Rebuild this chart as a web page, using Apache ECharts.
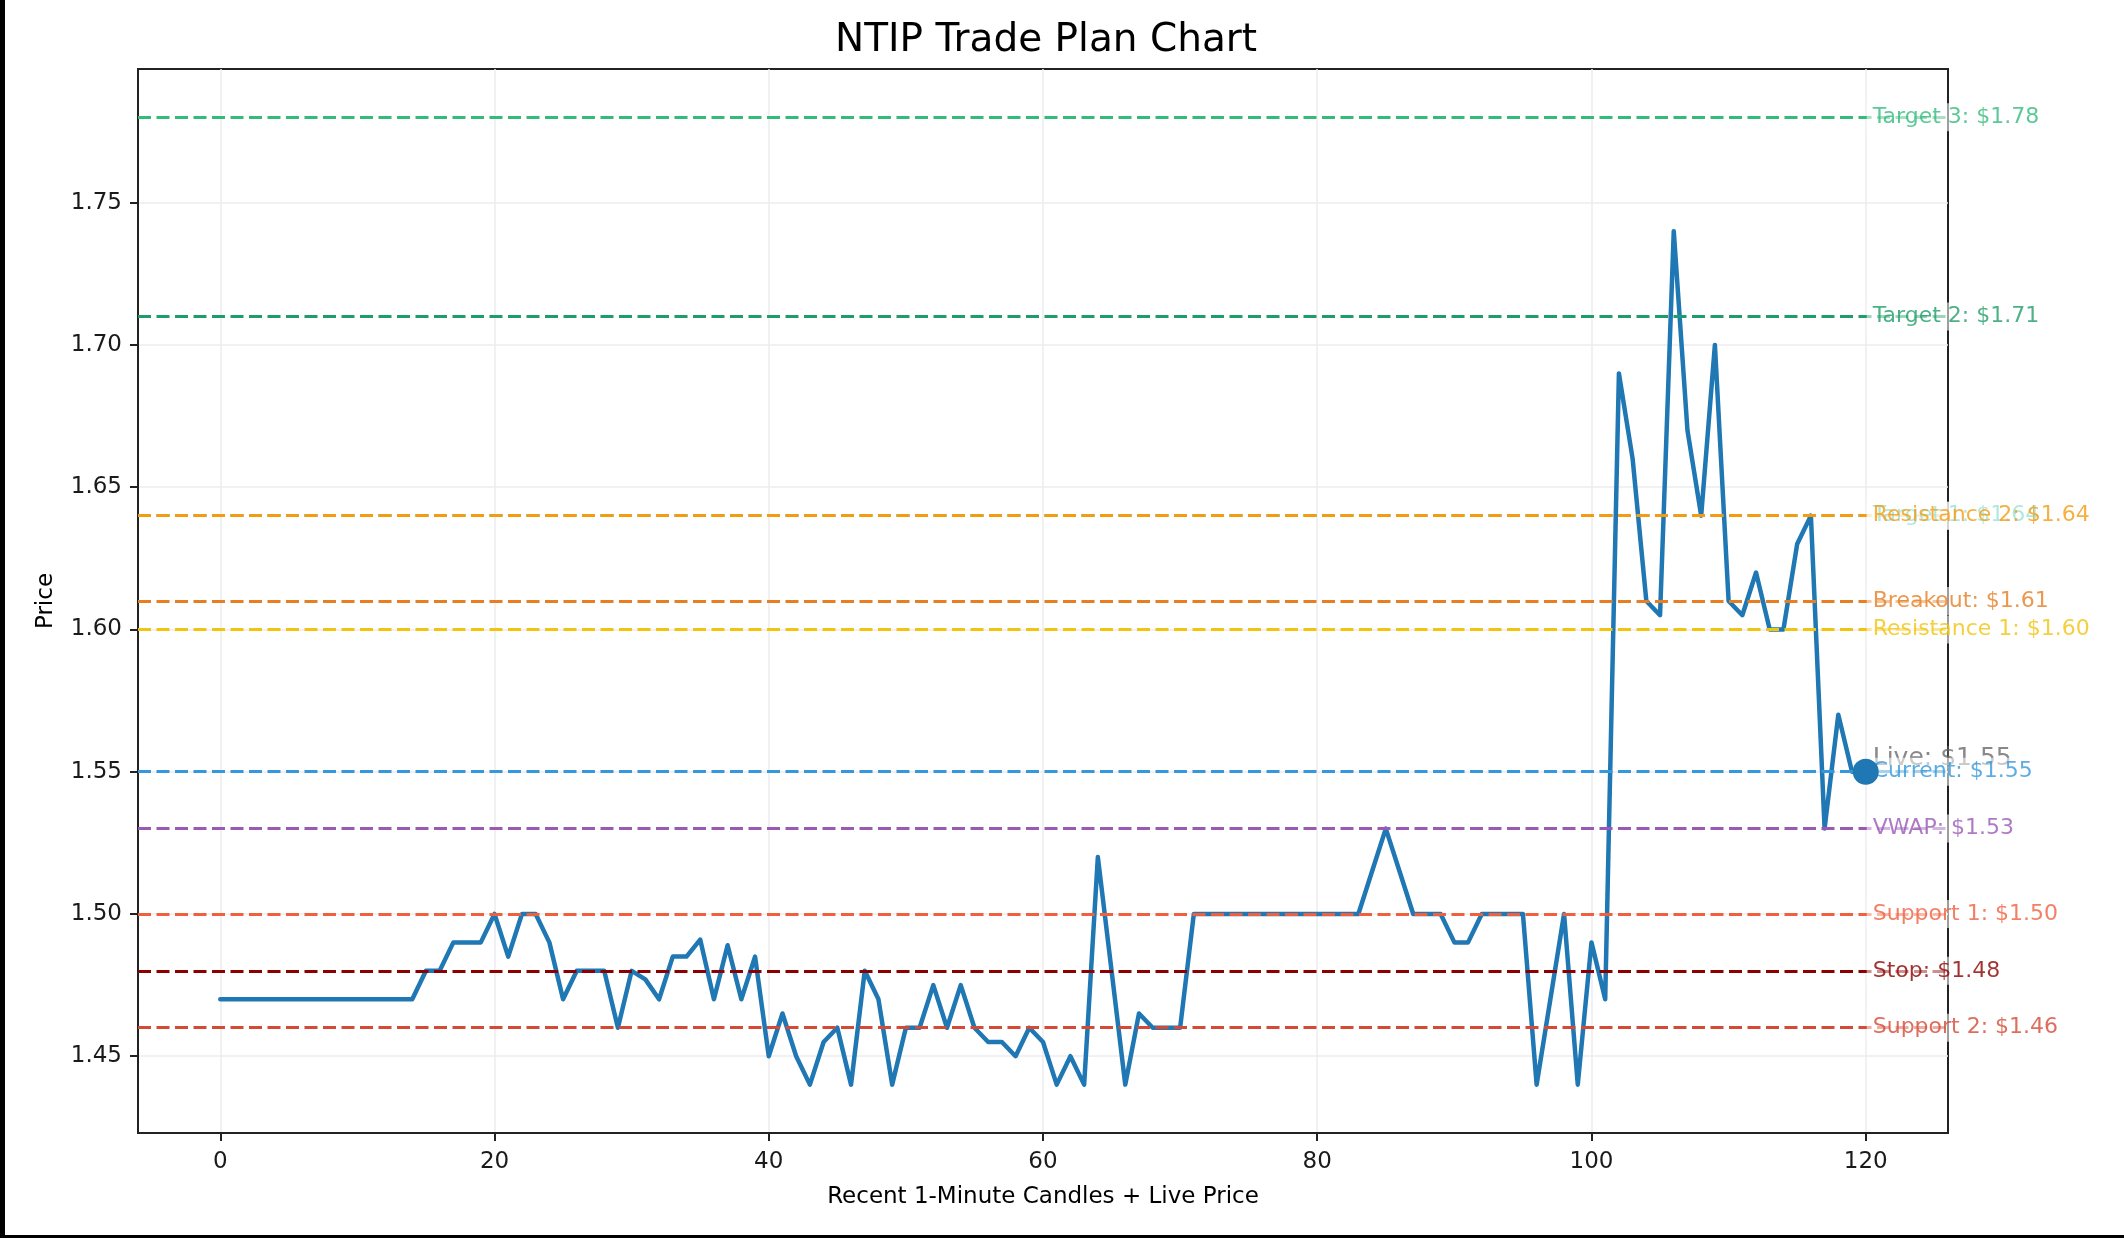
<!DOCTYPE html>
<html>
<head>
<meta charset="utf-8">
<title>NTIP Trade Plan Chart</title>
<script src="https://cdn.jsdelivr.net/npm/echarts@6/dist/echarts.min.js"></script>
<style>
  html, body { margin: 0; padding: 0; background: #000; }
  #chart { position: absolute; left: 5px; top: 0; width: 2119px; height: 1235px; background: #fff; }
</style>
</head>
<body>
<div id="chart"></div>
<script>
// --- data ------------------------------------------------------------------
// 1-minute closes, candle 0..119
const closes = [
  1.47, 1.47, 1.47, 1.47, 1.47, 1.47, 1.47, 1.47, 1.47, 1.47,
  1.47, 1.47, 1.47, 1.47, 1.47, 1.48, 1.48, 1.49, 1.49, 1.49,
  1.50, 1.485, 1.50, 1.50, 1.49, 1.47, 1.48, 1.48, 1.48, 1.46,
  1.48, 1.477, 1.47, 1.485, 1.485, 1.491, 1.47, 1.489, 1.47, 1.485,
  1.45, 1.465, 1.45, 1.44, 1.455, 1.46, 1.44, 1.48, 1.47, 1.44,
  1.46, 1.46, 1.475, 1.46, 1.475, 1.46, 1.455, 1.455, 1.45, 1.46,
  1.455, 1.44, 1.45, 1.44, 1.52, 1.48, 1.44, 1.465, 1.46, 1.46,
  1.46, 1.50, 1.50, 1.50, 1.50, 1.50, 1.50, 1.50, 1.50, 1.50,
  1.50, 1.50, 1.50, 1.50, 1.515, 1.53, 1.515, 1.50, 1.50, 1.50,
  1.49, 1.49, 1.50, 1.50, 1.50, 1.50, 1.44, 1.47, 1.50, 1.44,
  1.49, 1.47, 1.69, 1.66, 1.61, 1.605, 1.74, 1.67, 1.64, 1.70,
  1.61, 1.605, 1.62, 1.60, 1.60, 1.63, 1.64, 1.53, 1.57, 1.55
];
const livePrice = 1.55;

// trade plan levels (drawing order: later ones sit on top)
const levelNames  = ["Support 2", "Stop", "Support 1", "VWAP", "Current", "Resistance 1", "Breakout", "Target 1", "Resistance 2", "Target 2", "Target 3"];
const levelValues = [1.46, 1.48, 1.50, 1.53, 1.55, 1.60, 1.61, 1.64, 1.64, 1.71, 1.78];
const levelColors = ["#d44a35", "#8b0000", "#f0603f", "#9b59b6", "#3498db", "#f1c40f", "#e67e22", "#1abc9c", "#f39c12", "#1f9d68", "#33bb7c"];

const yTicks = [1.45, 1.50, 1.55, 1.60, 1.65, 1.70, 1.75];
const xTicks = [0, 20, 40, 60, 80, 100, 120];

// --- chart ----------------------------------------------------------------
const FONT = "DejaVu Sans";
const INK = "#1a1a1a";
const series = closes.concat([livePrice]).map((v, i) => [i, v]);
const liveX = closes.length;

const axisLine = { show: true, onZero: false, lineStyle: { color: "#222", width: 2 } };

const chart = echarts.init(document.getElementById("chart"));
chart.setOption({
  animation: false,
  title: {
    text: "NTIP Trade Plan Chart", left: 825, top: 16,
    textStyle: { fontFamily: FONT, fontSize: 39, fontWeight: "normal", color: "#000" }
  },
  grid: { left: 133, right: 176, top: 69, bottom: 102, show: true, borderColor: "#222", borderWidth: 2, backgroundColor: "transparent" },
  xAxis: {
    type: "value", min: -6, max: 126,
    name: "Recent 1-Minute Candles + Live Price", nameLocation: "middle", nameGap: 53,
    nameTextStyle: { fontFamily: FONT, fontSize: 23, color: "#000" },
    axisLine: axisLine,
    axisTick: { show: true, customValues: xTicks, length: 8, lineStyle: { color: "#222", width: 2 } },
    axisLabel: { customValues: xTicks, margin: 18, fontFamily: FONT, fontSize: 23, color: INK },
    splitLine: { show: true, lineStyle: { color: "#ececf0", width: 1.5 } }
  },
  yAxis: {
    type: "value", min: 1.423, max: 1.797,
    name: "Price", nameLocation: "middle", nameGap: 80, nameRotate: 90,
    nameTextStyle: { fontFamily: FONT, fontSize: 23, color: "#000" },
    axisLine: axisLine,
    axisTick: { show: true, customValues: yTicks, length: 8, lineStyle: { color: "#222", width: 2 } },
    axisLabel: { customValues: yTicks, margin: 16, fontFamily: FONT, fontSize: 23, color: INK, formatter: (v) => v.toFixed(2) },
    splitLine: { show: true, lineStyle: { color: "#ececf0", width: 1.5 } }
  },
  series: [
    {
      // dashed plan levels
      type: "line", data: [], z: 1, silent: true,
      markLine: {
        silent: true, symbol: ["none", "none"], animation: false,
        label: { show: false },
        data: levelValues.map((v, i) => ({ yAxis: v, lineStyle: { color: levelColors[i], width: 3, type: [13, 5.5], opacity: 1 } }))
      }
    },
    {
      // price path + live price
      type: "line", data: series, z: 3, showSymbol: false, silent: true,
      lineStyle: { color: "#1f77b4", width: 4.5, join: "round", cap: "round" }
    },
    {
      type: "scatter", z: 4, silent: true, symbolSize: 2,
      itemStyle: { color: "rgba(0,0,0,0)" },
      data: [{ value: [liveX, livePrice] }],
      label: {
        show: true, position: "right", distance: 6, offset: [0, -13],
        formatter: "Live: $" + livePrice.toFixed(2),
        fontFamily: FONT, fontSize: 25, color: "#6a6a6a"
      }
    },
    {
      // level labels with semi-opaque white boxes
      type: "scatter", z: 5, silent: true, symbolSize: 2,
      itemStyle: { color: "rgba(0,0,0,0)" },
      labelLayout: { hideOverlap: false },
      data: levelValues.map((v, i) => ({
        value: [liveX, v],
        name: levelNames[i],
        label: { color: levelColors[i] }
      })),
      label: {
        show: true, position: "right", distance: 0,
        formatter: (p) => p.name + ": $" + p.value[1].toFixed(2),
        fontFamily: FONT, fontSize: 22,
        backgroundColor: "rgba(255,255,255,0.7)", padding: [3, 5, 3, 6]
      }
    },
    {
      type: "scatter", z: 6, silent: true, symbolSize: 26,
      itemStyle: { color: "#1f77b4", opacity: 1 },
      data: [[liveX, livePrice]]
    }
  ]
});
</script>
</body>
</html>
